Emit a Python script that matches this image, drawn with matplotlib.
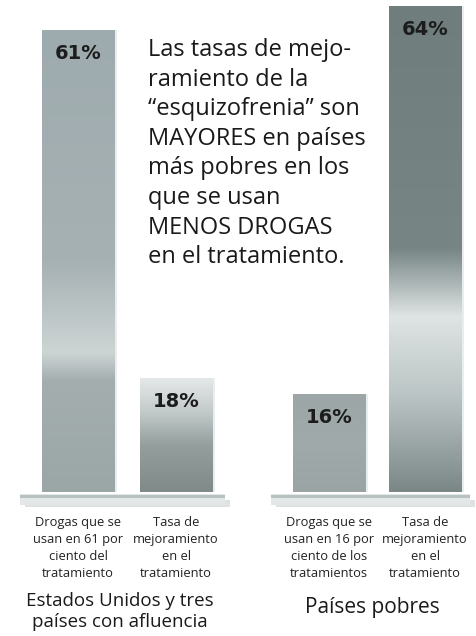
import numpy as np
import matplotlib
matplotlib.use("Agg")
import matplotlib.pyplot as plt
from matplotlib.colors import LinearSegmentedColormap
from matplotlib.patches import Rectangle

# data
values = [61, 18, 16, 64]
pct_labels = ["61%", "18%", "16%", "64%"]
bar_labels = [
    "Drogas que se\nusan en 61 por\nciento del\ntratamiento",
    "Tasa de\nmejoramiento\nen el\ntratamiento",
    "Drogas que se\nusan en 16 por\nciento de los\ntratamientos",
    "Tasa de\nmejoramiento\nen el\ntratamiento",
]
groups = ["Estados Unidos y tres\npaíses con afluencia", "Países pobres"]
note = ("Las tasas de mejo-\nramiento de la\n“esquizofrenia” son\nMAYORES en países\n"
        "más pobres en los\nque se usan\nMENOS DROGAS\nen el tratamiento.")

plt.rcParams['font.family'] = ['Open Sans', 'DejaVu Sans']

pos = [0, 1.0, 2.56, 3.54]
width = 0.735
ybot = 3.9
# top-to-bottom colour ramps for each bar (position, colour)
ramps = [
    [(0, "#9eabae"), (0.5, "#a6b1b3"), (0.7, "#cdd4d4"), (0.76, "#a4aeaf"), (1, "#9ba6a7")],
    [(0, "#e6e9e9"), (0.3, "#c3caca"), (0.6, "#939e9d"), (1, "#7f8a89")],
    [(0, "#9ca6a7"), (0.5, "#a1aaab"), (1, "#9aa4a5")],
    [(0, "#6f7d7d"), (0.5, "#778585"), (0.64, "#dfe4e4"), (0.8, "#bcc5c5"), (1, "#7b8787")],
]

fig = plt.figure(figsize=(4.77, 6.36), dpi=100)
ax = fig.add_axes([0, 0.2264, 1, 0.7736])
ax.set_xlim(-0.796, 4.07)
ax.set_ylim(ybot, 64.7)

bars = ax.bar(pos, values, width=width, color="#a0aaab", zorder=2)
for b, ramp in zip(bars, ramps):
    x0 = b.get_x()
    w, h = b.get_width(), b.get_height()
    # soft shadow on the right
    ax.add_patch(Rectangle((x0 + 0.03, ybot), w, h - ybot, color="#c5cccc", alpha=0.35,
                           zorder=1, lw=0))
    cmap = LinearSegmentedColormap.from_list("r", ramp)
    grad = np.linspace(0, 1, 256).reshape(-1, 1) * np.ones((1, 16))
    im = ax.imshow(grad, extent=[x0, x0 + w, ybot, h], origin="upper",
                   aspect="auto", cmap=cmap, zorder=3, interpolation="bilinear")
    im.set_clip_path(b)

ax.set_xlim(-0.796, 4.07)
ax.set_ylim(ybot, 64.7)

for p, v, t in zip(pos, values, pct_labels):
    ax.annotate(t, (p, v), xytext=(0, -10), textcoords="offset points",
                ha="center", va="top", fontsize=14, fontweight="bold",
                family="DejaVu Sans", color="#1c1c1c", zorder=5)

# shelves under each group
tr = ax.get_xaxis_transform()
for xa, xb in [(-0.59, 1.5), (1.97, 4.0)]:
    ax.add_patch(Rectangle((xa + 0.05, -0.03), xb - xa, 0.014, transform=tr,
                           color="#c8cfcf", alpha=0.6, clip_on=False, zorder=0, lw=0))
    ax.add_patch(Rectangle((xa, -0.026), xb - xa, 0.022, transform=tr,
                           color="#e3e7e7", clip_on=False, zorder=1, lw=0))
    ax.add_patch(Rectangle((xa, -0.012), xb - xa, 0.005, transform=tr,
                           color="#b8c1c1", clip_on=False, zorder=1, lw=0))

ax.set_xticks(pos)
ax.set_xticklabels(bar_labels, fontsize=9.3, color="#222222", linespacing=1.4)
ax.tick_params(axis="x", length=0, pad=17)
ax.set_yticks([])
for s in ax.spines.values():
    s.set_visible(False)

fig.text(0.31, 0.94, note, ha="left", va="top",
         fontsize=17, color="#1a1a1a", linespacing=1.31)

fig.text(0.252, 0.008, groups[0], ha="center", va="bottom", fontsize=13.5,
         color="#1a1a1a", linespacing=1.2)
fig.text(0.78, 0.028, groups[1], ha="center", va="bottom", fontsize=15,
         color="#1a1a1a")

fig.savefig("out.png", dpi=100, facecolor="white")
